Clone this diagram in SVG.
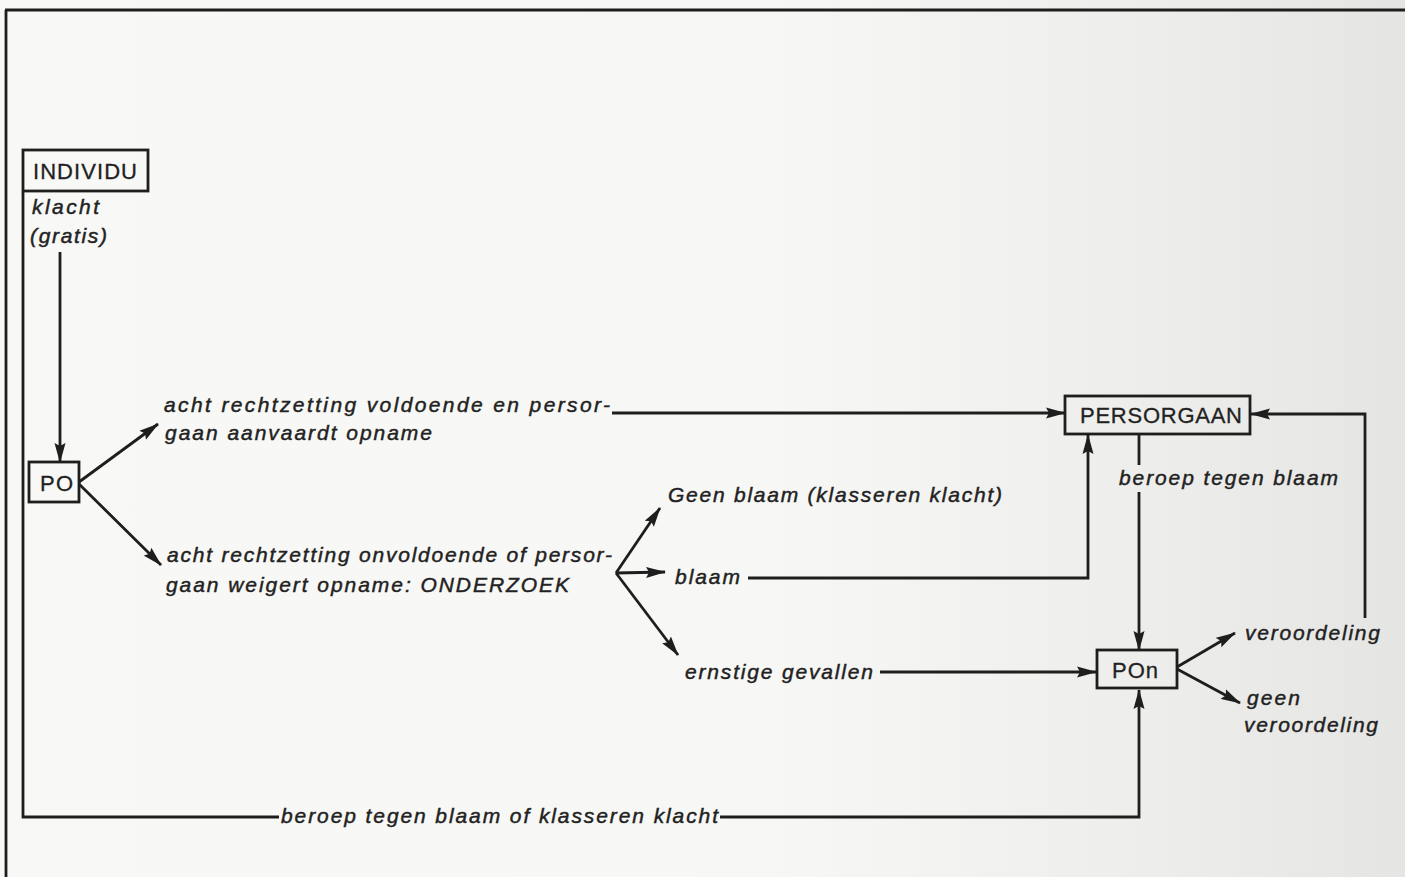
<svg xmlns="http://www.w3.org/2000/svg" width="1405" height="877" viewBox="0 0 1405 877">
  <defs>
    <linearGradient id="paper" x1="0" y1="0" x2="1" y2="0">
      <stop offset="0" stop-color="#f8f8f6"/>
      <stop offset="0.55" stop-color="#f7f7f5"/>
      <stop offset="0.8" stop-color="#eeeeec"/>
      <stop offset="1" stop-color="#e5e5e3"/>
    </linearGradient>
    <marker id="arr" viewBox="0 0 20 12" refX="19" refY="6" markerWidth="20" markerHeight="12" markerUnits="userSpaceOnUse" orient="auto">
      <path d="M0,0.5 L20,6 L0,11.5 L3,6 Z" fill="#1e1e1e"/>
    </marker>
    <style>
      .ln { fill: none; stroke: #1e1e1e; stroke-width: 2.8; }
      .box { fill: none; stroke: #1e1e1e; stroke-width: 2.8; }
      .nt { font-family: "Liberation Sans", Arial, sans-serif; font-size: 22px; fill: #222; stroke: #222; stroke-width: 0.3; }
      .lb { font-family: "Liberation Sans", Arial, sans-serif; font-size: 21px; font-style: italic; fill: #222; stroke: #222; stroke-width: 0.45; }
    </style>
  </defs>

  <rect x="0" y="0" width="1405" height="877" fill="url(#paper)"/>

  <!-- frame -->
  <g id="frame">
    <line class="ln" x1="5" y1="10" x2="1405" y2="10"/>
    <line class="ln" x1="6" y1="10" x2="6" y2="877"/>
  </g>

  <g id="connectors">
    <!-- INDIVIDU down to PO -->
    <line class="ln" x1="60" y1="252" x2="60" y2="462" marker-end="url(#arr)"/>
    <!-- PO branches -->
    <line class="ln" x1="79" y1="482" x2="158" y2="424" marker-end="url(#arr)"/>
    <line class="ln" x1="79" y1="484" x2="161" y2="565" marker-end="url(#arr)"/>
    <!-- voldoende to PERSORGAAN -->
    <line class="ln" x1="612" y1="413" x2="1065" y2="413" marker-end="url(#arr)"/>
    <!-- fork after ONDERZOEK -->
    <line class="ln" x1="616" y1="573" x2="660" y2="508" marker-end="url(#arr)"/>
    <line class="ln" x1="616" y1="573" x2="665" y2="572" marker-end="url(#arr)"/>
    <line class="ln" x1="616" y1="573" x2="678" y2="655" marker-end="url(#arr)"/>
    <!-- blaam to PERSORGAAN -->
    <polyline class="ln" points="748,578 1088,578 1088,435" marker-end="url(#arr)"/>
    <!-- ernstige gevallen to POn -->
    <line class="ln" x1="880" y1="672" x2="1096" y2="672" marker-end="url(#arr)"/>
    <!-- PERSORGAAN to POn (beroep tegen blaam) -->
    <line class="ln" x1="1139" y1="434" x2="1139" y2="465"/>
    <line class="ln" x1="1139" y1="492" x2="1139" y2="650" marker-end="url(#arr)"/>
    <!-- veroordeling back to PERSORGAAN -->
    <polyline class="ln" points="1365,618 1365,414 1251,414" marker-end="url(#arr)"/>
    <!-- POn outcomes -->
    <line class="ln" x1="1177" y1="667" x2="1235" y2="633" marker-end="url(#arr)"/>
    <line class="ln" x1="1177" y1="669" x2="1240" y2="703" marker-end="url(#arr)"/>
    <!-- bottom loop from INDIVIDU to POn -->
    <polyline class="ln" points="23,192 23,817 279,817"/>
    <polyline class="ln" points="720,817 1139,817 1139,690" marker-end="url(#arr)"/>
  </g>

  <g id="individu">
    <rect class="box" x="23" y="150" width="125" height="41"/>
    <text class="nt" x="33" y="179" textLength="104" lengthAdjust="spacing">INDIVIDU</text>
    <text class="lb" x="32" y="214" textLength="67" lengthAdjust="spacing">klacht</text>
    <text class="lb" x="30" y="243" textLength="77" lengthAdjust="spacing">(gratis)</text>
  </g>

  <g id="po">
    <rect class="box" x="29" y="462" width="50" height="40"/>
    <text class="nt" x="40" y="491" textLength="33" lengthAdjust="spacing">PO</text>
  </g>

  <g id="voldoende">
    <text class="lb" x="164" y="412" textLength="446" lengthAdjust="spacing">acht rechtzetting voldoende en persor-</text>
    <text class="lb" x="165" y="440" textLength="267" lengthAdjust="spacing">gaan aanvaardt opname</text>
  </g>

  <g id="onderzoek">
    <text class="lb" x="167" y="562" textLength="445" lengthAdjust="spacing">acht rechtzetting onvoldoende of persor-</text>
    <text class="lb" x="166" y="592" textLength="403" lengthAdjust="spacing">gaan weigert opname: ONDERZOEK</text>
  </g>

  <g id="geen-blaam">
    <text class="lb" x="668" y="502" textLength="334" lengthAdjust="spacing">Geen blaam (klasseren klacht)</text>
  </g>

  <g id="blaam">
    <text class="lb" x="675" y="584" textLength="65" lengthAdjust="spacing">blaam</text>
  </g>

  <g id="ernstige">
    <text class="lb" x="685" y="679" textLength="188" lengthAdjust="spacing">ernstige gevallen</text>
  </g>

  <g id="persorgaan">
    <rect class="box" x="1065" y="396" width="185" height="38"/>
    <text class="nt" x="1080" y="423" textLength="162" lengthAdjust="spacing">PERSORGAAN</text>
    <text class="lb" x="1119" y="485" textLength="219" lengthAdjust="spacing">beroep tegen blaam</text>
  </g>

  <g id="pon">
    <rect class="box" x="1097" y="650" width="80" height="38"/>
    <text class="nt" x="1112" y="678" textLength="46" lengthAdjust="spacing">POn</text>
  </g>

  <g id="uitspraak">
    <text class="lb" x="1245" y="640" textLength="135" lengthAdjust="spacing">veroordeling</text>
    <text class="lb" x="1247" y="705" textLength="53" lengthAdjust="spacing">geen</text>
    <text class="lb" x="1244" y="732" textLength="134" lengthAdjust="spacing">veroordeling</text>
  </g>

  <g id="beroep-onder">
    <text class="lb" x="281" y="823" textLength="437" lengthAdjust="spacing">beroep tegen blaam of klasseren klacht</text>
  </g>
</svg>
